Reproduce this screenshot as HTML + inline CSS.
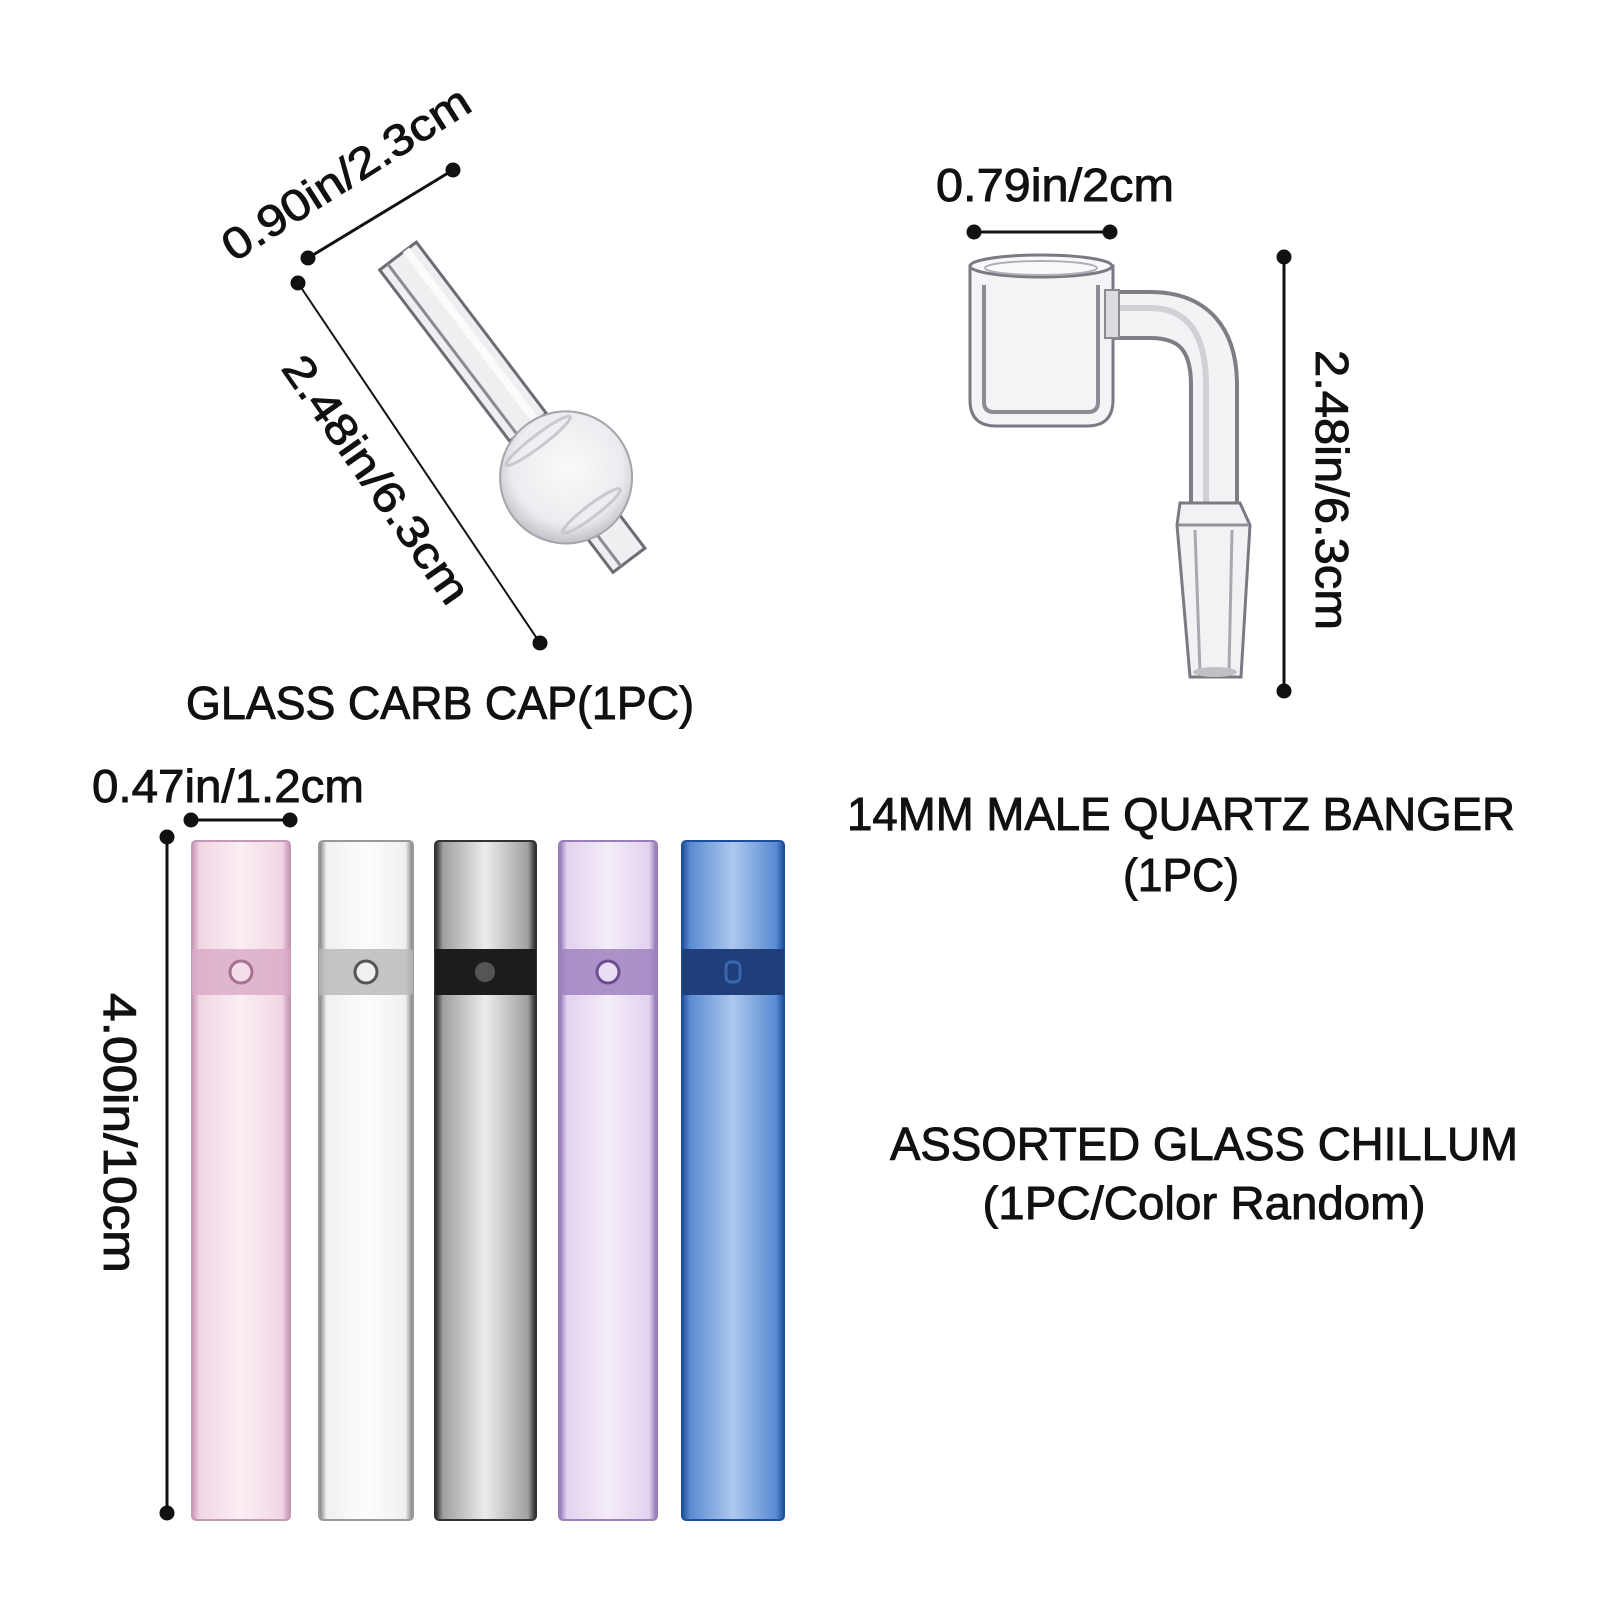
<!DOCTYPE html>
<html><head><meta charset="utf-8"><style>
html,body{margin:0;padding:0;background:#fff;}
svg{display:block;}
text{font-family:"Liberation Sans",sans-serif;fill:#111;stroke:#111;stroke-width:0.9px;}
</style></head><body>
<svg width="1600" height="1600" viewBox="0 0 1600 1600" xmlns="http://www.w3.org/2000/svg">
<defs>
<linearGradient id="gPink" x1="0" x2="1"><stop offset="0" stop-color="#c996b2"/><stop offset="0.08" stop-color="#f1d6e4"/><stop offset="0.5" stop-color="#fbeef4"/><stop offset="0.92" stop-color="#f1d6e4"/><stop offset="1" stop-color="#c48fae"/></linearGradient>
<linearGradient id="gClear" x1="0" x2="1"><stop offset="0" stop-color="#7a7a7a"/><stop offset="0.08" stop-color="#f0f0f0"/><stop offset="0.5" stop-color="#fdfdfd"/><stop offset="0.92" stop-color="#f0f0f0"/><stop offset="1" stop-color="#7a7a7a"/></linearGradient>
<linearGradient id="gGray" x1="0" x2="1"><stop offset="0" stop-color="#222"/><stop offset="0.08" stop-color="#a0a0a0"/><stop offset="0.5" stop-color="#ececec"/><stop offset="0.92" stop-color="#a0a0a0"/><stop offset="1" stop-color="#222"/></linearGradient>
<linearGradient id="gPurple" x1="0" x2="1"><stop offset="0" stop-color="#8c6cb0"/><stop offset="0.08" stop-color="#e2d2ef"/><stop offset="0.5" stop-color="#f4ecf8"/><stop offset="0.92" stop-color="#e2d2ef"/><stop offset="1" stop-color="#8c6cb0"/></linearGradient>
<linearGradient id="gBlue" x1="0" x2="1"><stop offset="0" stop-color="#1d4f9e"/><stop offset="0.08" stop-color="#5a8bd2"/><stop offset="0.5" stop-color="#adc8ee"/><stop offset="0.92" stop-color="#5a8bd2"/><stop offset="1" stop-color="#1d4f9e"/></linearGradient>
<radialGradient id="gBulb" cx="0.45" cy="0.45" r="0.6"><stop offset="0" stop-color="#fafafa"/><stop offset="0.7" stop-color="#ececf0"/><stop offset="1" stop-color="#b8b8c0"/></radialGradient>
</defs>

<g fill="#111" stroke="#111">
<line x1="308" y1="258" x2="453" y2="170" stroke-width="3"/>
<circle cx="308" cy="258" r="7"/><circle cx="453" cy="170" r="7"/>
<line x1="298" y1="283" x2="540" y2="643" stroke-width="2"/>
<circle cx="298" cy="283" r="7"/><circle cx="540" cy="643" r="7"/>
</g>
<text transform="translate(354,186) rotate(-32.5)" text-anchor="middle" font-size="44" textLength="285" lengthAdjust="spacingAndGlyphs">0.90in/2.3cm</text>
<text transform="translate(364,488) rotate(55)" text-anchor="middle" font-size="44" textLength="292" lengthAdjust="spacingAndGlyphs">2.48in/6.3cm</text>

<g transform="translate(398,256) rotate(52.8)">
  <rect x="0" y="-23" width="215" height="46" fill="#efeff2" stroke="#6c6c75" stroke-width="3"/>
  <rect x="0" y="-14" width="215" height="8" fill="#fbfbfb" stroke="none"/>
  <line x1="0" y1="13" x2="215" y2="13" stroke="#8a8a92" stroke-width="3"/>
  <rect x="270" y="-20" width="112" height="40" fill="#efeff2" stroke="#6c6c75" stroke-width="3"/>
  <line x1="290" y1="10" x2="382" y2="10" stroke="#8c8c95" stroke-width="3"/>
  <circle cx="278" cy="0" r="66" fill="url(#gBulb)" stroke="#a4a4ac" stroke-width="2"/>
  <ellipse cx="232" cy="0" rx="6" ry="40" fill="none" stroke="#c8c8d0" stroke-width="3"/>
  <ellipse cx="320" cy="0" rx="6" ry="36" fill="none" stroke="#c8c8d0" stroke-width="3"/>
</g>
<text x="440" y="719" text-anchor="middle" font-size="46" textLength="508" lengthAdjust="spacingAndGlyphs">GLASS CARB CAP(1PC)</text>

<text x="1055" y="201" text-anchor="middle" font-size="46" textLength="238" lengthAdjust="spacingAndGlyphs">0.79in/2cm</text>
<g fill="#111" stroke="#111">
<line x1="974" y1="232" x2="1110" y2="232" stroke-width="3"/>
<circle cx="974" cy="232" r="7"/><circle cx="1110" cy="232" r="7"/>
<line x1="1284" y1="257" x2="1284" y2="691" stroke-width="3"/>
<circle cx="1284" cy="257" r="7"/><circle cx="1284" cy="691" r="7"/>
</g>
<text transform="translate(1316,490) rotate(90)" text-anchor="middle" font-size="46" textLength="280" lengthAdjust="spacingAndGlyphs">2.48in/6.3cm</text>

<path d="M1100,315 L1150,315 Q1214,315 1214,385 L1214,505" fill="none" stroke="#7e7e85" stroke-width="50"/>
<path d="M1100,315 L1150,315 Q1214,315 1214,385 L1214,505" fill="none" stroke="#f3f3f5" stroke-width="42"/>
<path d="M1100,308 L1150,308 Q1206,308 1206,385 L1206,505" fill="none" stroke="#d0d0d6" stroke-width="6"/>
<path d="M1180,503 L1240,503 L1250,525 L1241,677 L1190,677 L1177,525 Z" fill="#f2f2f4" stroke="#7a7a82" stroke-width="3"/>
<line x1="1178" y1="525" x2="1249" y2="525" stroke="#90909a" stroke-width="3"/>
<line x1="1195" y1="530" x2="1200" y2="672" stroke="#a8a8b0" stroke-width="3"/>
<line x1="1232" y1="530" x2="1229" y2="672" stroke="#a8a8b0" stroke-width="3"/>
<ellipse cx="1215" cy="672" rx="22" ry="5" fill="#c0c0c4"/>
<path d="M970,266 L970,400 Q970,426 996,426 L1087,426 Q1113,426 1113,400 L1113,266 Z" fill="#f4f4f6" stroke="#7a7a82" stroke-width="3"/>
<ellipse cx="1041" cy="266" rx="71" ry="11" fill="#f9f9fb" stroke="#7a7a82" stroke-width="3"/>
<ellipse cx="1041" cy="268" rx="56" ry="7" fill="none" stroke="#b0b0b8" stroke-width="2"/>
<path d="M984,285 L984,402 Q984,412 994,412 L1088,412 Q1098,412 1098,402 L1098,285" fill="none" stroke="#8c8c94" stroke-width="4"/>
<rect x="1105" y="290" width="14" height="48" fill="#dcdce0" stroke="#8a8a92" stroke-width="2"/>
<text x="1181" y="830" text-anchor="middle" font-size="46" textLength="668" lengthAdjust="spacingAndGlyphs">14MM MALE QUARTZ BANGER</text>
<text x="1181" y="891" text-anchor="middle" font-size="46" textLength="116" lengthAdjust="spacingAndGlyphs">(1PC)</text>

<text x="228" y="802" text-anchor="middle" font-size="46" textLength="272" lengthAdjust="spacingAndGlyphs">0.47in/1.2cm</text>
<g fill="#111" stroke="#111">
<line x1="191" y1="820" x2="290" y2="820" stroke-width="3"/>
<circle cx="191" cy="820" r="7"/><circle cx="290" cy="820" r="7"/>
<line x1="167" y1="837" x2="167" y2="1513" stroke-width="3"/>
<circle cx="167" cy="837" r="7"/><circle cx="167" cy="1513" r="7"/>
</g>
<text transform="translate(104,1133) rotate(90)" text-anchor="middle" font-size="46" textLength="280" lengthAdjust="spacingAndGlyphs">4.00in/10cm</text>

<g>
  <rect x="192" y="841" width="98" height="679" rx="4" fill="url(#gPink)" stroke="#c29ab3" stroke-width="2"/>
  <rect x="192" y="949" width="98" height="46" fill="#d9a9c6" opacity="0.8"/>
  <circle cx="241" cy="972" r="11" fill="#f5dcea" stroke="#a8708f" stroke-width="3"/>
  <rect x="319" y="841" width="94" height="679" rx="4" fill="url(#gClear)" stroke="#999" stroke-width="2"/>
  <rect x="319" y="949" width="94" height="46" fill="#b8b8b8" opacity="0.8"/>
  <circle cx="366" cy="972" r="11" fill="#f0f0f0" stroke="#555" stroke-width="3"/>
  <rect x="435" y="841" width="101" height="679" rx="4" fill="url(#gGray)" stroke="#333" stroke-width="2"/>
  <rect x="435" y="949" width="101" height="46" fill="#1c1c1c"/>
  <circle cx="485" cy="972" r="10" fill="#555"/>
  <rect x="559" y="841" width="98" height="679" rx="4" fill="url(#gPurple)" stroke="#9a80b8" stroke-width="2"/>
  <rect x="559" y="949" width="98" height="46" fill="#9d83c0" opacity="0.85"/>
  <circle cx="608" cy="972" r="11" fill="#e9dcf3" stroke="#6a4c90" stroke-width="3"/>
  <rect x="682" y="841" width="102" height="679" rx="4" fill="url(#gBlue)" stroke="#1d4f9e" stroke-width="2"/>
  <rect x="682" y="949" width="102" height="46" fill="#1f3f7a"/>
  <rect x="726" y="962" width="14" height="20" rx="5" fill="none" stroke="#3a66b0" stroke-width="3"/>
</g>

<text x="1204" y="1160" text-anchor="middle" font-size="46" textLength="628" lengthAdjust="spacingAndGlyphs">ASSORTED GLASS CHILLUM</text>
<text x="1204" y="1219" text-anchor="middle" font-size="46" textLength="443" lengthAdjust="spacingAndGlyphs">(1PC/Color Random)</text>
</svg>
</body></html>
